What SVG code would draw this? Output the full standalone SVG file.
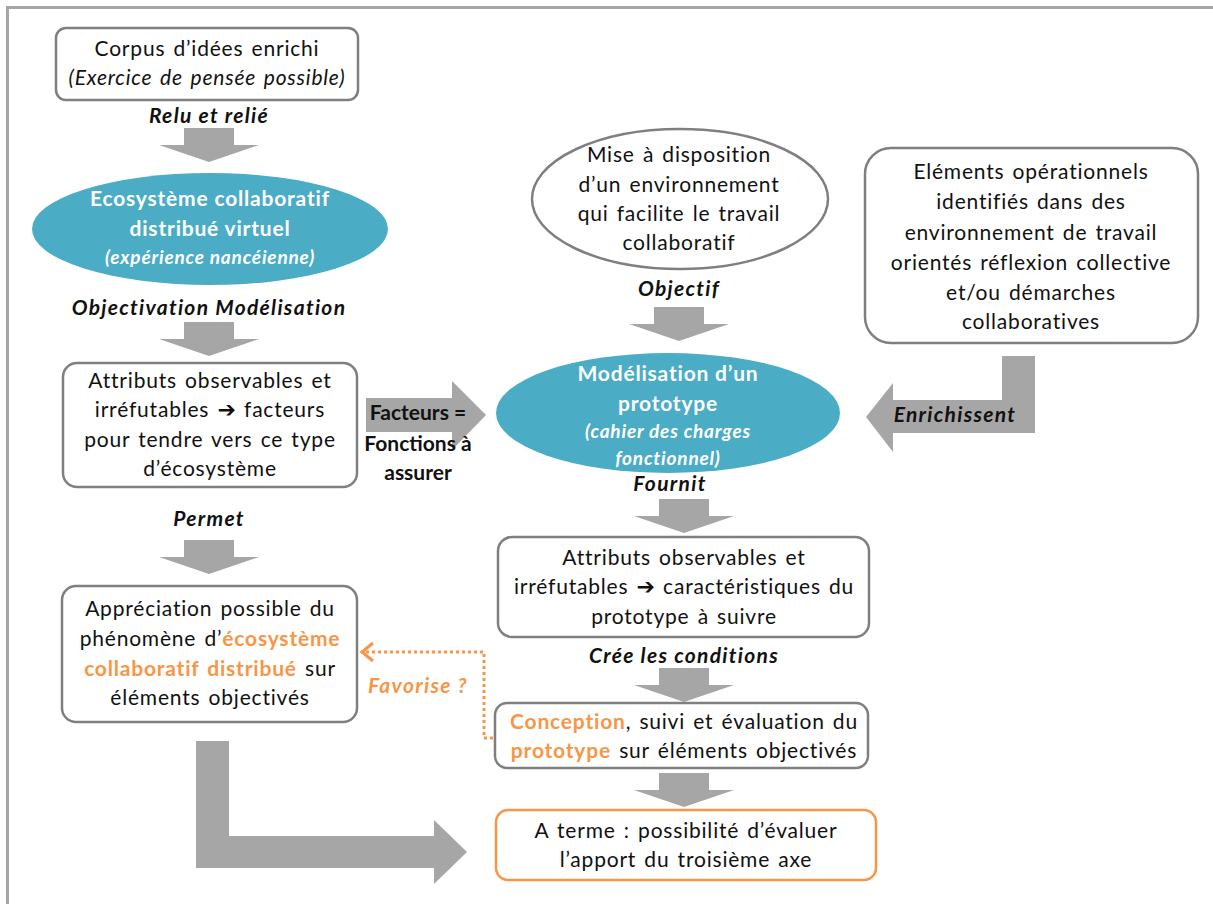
<svg xmlns="http://www.w3.org/2000/svg" xmlns:xlink="http://www.w3.org/1999/xlink" width="1213" height="904" viewBox="0 0 1213 904">
<style>
text{font-family:Lato,"Liberation Sans",sans-serif;font-size:21px;letter-spacing:0.8px;word-spacing:2px;fill:#111;text-anchor:middle}
.bi{font-weight:bold;font-style:italic;letter-spacing:1.3px;word-spacing:0}
.b{font-weight:bold;font-size:21px;letter-spacing:0;word-spacing:0}
.w{fill:#fff;font-weight:bold;letter-spacing:0.8px;word-spacing:0}
.ws{fill:#fff;font-weight:bold;font-style:italic;font-size:19px;letter-spacing:0.8px;word-spacing:0}
.i{font-style:italic}
.o{fill:#F79646;font-weight:bold}
.box{fill:#fff;stroke:#7f7f7f;stroke-width:2.5}
.obox{fill:#fff;stroke:#F79646;stroke-width:2.5}
.ell{fill:#4BACC6}
.arr{fill:#A6A6A6}
.sym{font-family:"DejaVu Sans",sans-serif;font-weight:bold;font-size:22px;letter-spacing:0}
</style>
<defs>
<path id="dn" d="M-25,0 H25 V17 H50 L0,34 L-50,17 H-25 Z"/>
</defs>
<rect width="1213" height="904" fill="#fff"/>
<path d="M7.5,904 V7.5 H1213" fill="none" stroke="#A6A6A6" stroke-width="3"/>

<g id="connectors">
<use xlink:href="#dn" class="arr" x="209" y="128"/>
<use xlink:href="#dn" class="arr" x="209" y="322"/>
<use xlink:href="#dn" class="arr" x="209" y="540"/>
<use xlink:href="#dn" class="arr" x="679" y="307"/>
<use xlink:href="#dn" class="arr" x="684" y="499"/>
<use xlink:href="#dn" class="arr" x="684" y="668"/>
<use xlink:href="#dn" class="arr" x="684" y="773"/>
<polygon class="arr" points="366,398 452,398 452,381 486,415 452,450 452,432 366,432"/>
<polygon class="arr" points="1002,356 1035,356 1035,433 893,433 893,452 866,417 893,383 893,400 1002,400"/>
<polygon class="arr" points="196,741 229,741 229,836 434,836 434,820 467,852 434,884 434,868 196,868"/>
<polyline points="493,738 484,738 484,652 364,652" fill="none" stroke="#F79646" stroke-width="3" stroke-dasharray="3,3"/>
<polyline points="373,643 362,652 373,661" fill="none" stroke="#F79646" stroke-width="3"/>
<text class="bi" x="209" y="123">Relu et relié</text>
<text class="bi" x="209" y="315">Objectivation Modélisation</text>
<text class="bi" x="209" y="526">Permet</text>
<text class="bi" x="679" y="296">Objectif</text>
<text class="bi" x="670" y="491">Fournit</text>
<text class="bi" x="684" y="663">Crée les conditions</text>
<text class="b" x="418" y="420">Facteurs =</text>
<text class="b" x="418" y="451">Fonctions à</text>
<text class="b" x="418" y="480">assurer</text>
<text class="bi" x="955" y="422">Enrichissent</text>
<text class="bi" x="418" y="693" style="fill:#F79646">Favorise ?</text>
</g>

<g id="corpus">
<rect class="box" x="56" y="28" width="302" height="72" rx="10"/>
<text x="207" y="56">Corpus d’idées enrichi</text>
<text class="i" x="207" y="85">(Exercice de pensée possible)</text>
</g>

<g id="ecosysteme">
<ellipse class="ell" cx="210" cy="229" rx="178" ry="56"/>
<text class="w" x="210" y="206">Ecosystème collaboratif</text>
<text class="w" x="210" y="236">distribué virtuel</text>
<text class="ws" x="210" y="264">(expérience nancéienne)</text>
</g>

<g id="attributs1">
<rect class="box" x="63" y="363" width="294" height="124" rx="14"/>
<text x="210" y="388">Attributs observables et</text>
<text x="210" y="417">irréfutables <tspan class="sym">➔</tspan> facteurs</text>
<text x="210" y="447">pour tendre vers ce type</text>
<text x="210" y="476">d’écosystème</text>
</g>

<g id="appreciation">
<rect class="box" x="62" y="586" width="295" height="136" rx="14"/>
<text x="210" y="616">Appréciation possible du</text>
<text x="210" y="646">phénomène d’<tspan class="o">écosystème</tspan></text>
<text x="210" y="676"><tspan class="o">collaboratif distribué</tspan> sur</text>
<text x="210" y="705">éléments objectivés</text>
</g>

<g id="mise">
<ellipse cx="680" cy="199" rx="148" ry="70" fill="#fff" stroke="#7f7f7f" stroke-width="2.5"/>
<text x="679" y="162">Mise à disposition</text>
<text x="679" y="192">d’un environnement</text>
<text x="679" y="221">qui facilite le travail</text>
<text x="679" y="250">collaboratif</text>
</g>

<g id="elements">
<rect class="box" x="865" y="148" width="333" height="195" rx="26"/>
<text x="1031" y="179">Eléments opérationnels</text>
<text x="1031" y="209">identifiés dans des</text>
<text x="1031" y="240">environnement de travail</text>
<text x="1031" y="270">orientés réflexion collective</text>
<text x="1031" y="300">et/ou démarches</text>
<text x="1031" y="329">collaboratives</text>
</g>

<g id="modelisation">
<ellipse class="ell" cx="668" cy="413" rx="172" ry="60"/>
<text class="w" x="668" y="381">Modélisation d’un</text>
<text class="w" x="668" y="411">prototype</text>
<text class="ws" x="668" y="438">(cahier des charges</text>
<text class="ws" x="668" y="465">fonctionnel)</text>
</g>

<g id="attributs2">
<rect class="box" x="498" y="537" width="371" height="100" rx="14"/>
<text x="684" y="565">Attributs observables et</text>
<text x="684" y="594">irréfutables <tspan class="sym">➔</tspan> caractéristiques du</text>
<text x="684" y="624">prototype à suivre</text>
</g>

<g id="conception">
<rect class="box" x="495" y="703" width="373" height="65" rx="12"/>
<text x="684" y="729"><tspan class="o">Conception</tspan>, suivi et évaluation du</text>
<text x="684" y="758"><tspan class="o">prototype</tspan> sur éléments objectivés</text>
</g>

<g id="aterme">
<rect class="obox" x="496" y="810" width="380" height="70" rx="12"/>
<text x="686" y="838">A terme : possibilité d’évaluer</text>
<text x="686" y="867">l’apport du troisième axe</text>
</g>
</svg>
